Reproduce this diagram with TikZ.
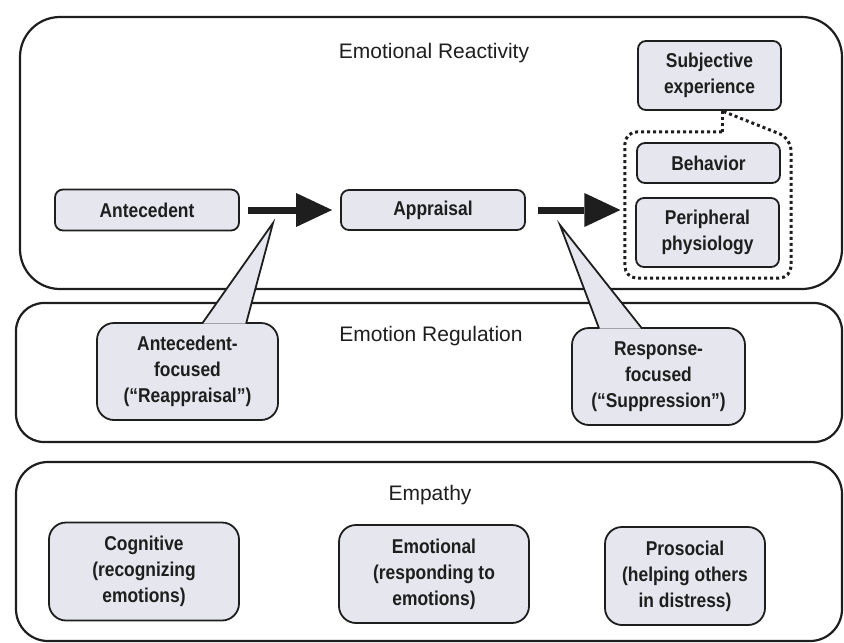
\documentclass[tikz,border=0pt]{standalone}
\usepackage{fontspec}
\setmainfont{Liberation Sans}
\newfontfamily\boxfont{Liberation Sans}[FakeStretch=0.87]
\usepackage{tikz}
\usetikzlibrary{arrows.meta,calc,fit}
\definecolor{boxgray}{RGB}{230,231,238}
\definecolor{ink}{RGB}{30,30,30}

\begin{document}
\begin{tikzpicture}[x=1pt,y=-1pt,>=Latex,
  panel/.style={draw=ink,line width=2.2pt,rounded corners=#1},
  title/.style={anchor=base,text=ink,font=\fontsize{21}{25}\selectfont},
  item/.style={draw=ink,fill=boxgray,line width=1.8pt,rounded corners=8pt,
    align=center,inner sep=0pt,text=ink,
    font=\boxfont\fontsize{20}{26}\selectfont\bfseries},
  tail/.style={draw=ink,fill=boxgray,line width=1.8pt},
  bigarrow/.style={draw=ink,line width=7pt,
    -{Triangle[length=36pt,width=34pt,line width=0pt]}},
  dotline/.style={draw=ink,line width=3pt,dash pattern=on 3pt off 3pt}]
  \useasboundingbox (0,0) rectangle (844,643);

  \draw[panel=40pt] (20,17) rectangle (842,289);
  \draw[panel=28pt] (16,303) rectangle (842,442);
  \draw[panel=32pt] (16,462) rectangle (842,641);

  \node[title] (reacttitle) at (434,58) {Emotional Reactivity};
  \node[title] (regtitle) at (431,341) {Emotion Regulation};
  \node[title] (emptitle) at (430,500) {Empathy};

  \node[item,minimum width=184pt,minimum height=41pt] (ante) at (147,210) {Antecedent};
  \node[item,minimum width=184pt,minimum height=40pt] (appr) at (433,210) {Appraisal};
  \node[item,minimum width=143pt,minimum height=69pt] (subj) at (709.5,75.5) {Subjective\\experience};
  \node[item,minimum width=143pt,minimum height=40pt] (beh) at (708.5,163) {Behavior};
  \node[item,minimum width=143pt,minimum height=69pt] (peri) at (707.5,232.5) {Peripheral\\physiology};
  \node[fit=(beh)(peri),inner xsep=10pt,inner ysep=10pt] (grp) {};

  \draw[dotline] ([xshift=12.5pt]subj.south) -- ([xshift=12.5pt]subj.south |- grp.north);
  \draw[dotline,rounded corners=12pt] ([xshift=12.5pt]subj.south |- grp.north)
    -- (grp.north west) -- (grp.south west) -- (grp.south east)
    -- ([yshift=-6.5pt]grp.north east) -- ([xshift=12.5pt]subj.south);

  \draw[bigarrow,shorten <=8pt,shorten >=8pt] (ante.east) -- (appr.west);
  \draw[bigarrow,shorten <=12pt,shorten >=4.5pt] (appr.east) -- (appr.east -| grp.west);

  \node[item,rounded corners=17pt,minimum width=181pt,minimum height=97pt] (reap)
    at (187.5,371.5) {Antecedent-\\focused\\(“Reappraisal”)};
  \node[item,rounded corners=17pt,minimum width=173pt,minimum height=97pt] (supp)
    at (658.5,376.5) {Response-\\focused\\(“Suppression”)};
  \coordinate (reaptip) at (273,223);
  \coordinate (supptip) at (560,225);
  \filldraw[tail] ([xshift=106pt,yshift=-1.5pt]reap.north west) -- (reaptip)
    -- ([xshift=150pt,yshift=-1.5pt]reap.north west);
  \filldraw[tail] ([xshift=28pt,yshift=-1.5pt]supp.north west) -- (supptip)
    -- ([xshift=71pt,yshift=-1.5pt]supp.north west);

  \foreach \nm/\cx/\cy/\w/\txt in {cog/144/571.5/190/{Cognitive\\(recognizing\\emotions)},
      emo/434/574/190/{Emotional\\(responding to\\emotions)},
      pro/685/576/160/{Prosocial\\(helping others\\in distress)}}{
    \node[item,rounded corners=17pt,minimum width=\w pt,minimum height=98pt] (\nm) at (\cx,\cy) {\txt};
  }
\end{tikzpicture}
\end{document}
